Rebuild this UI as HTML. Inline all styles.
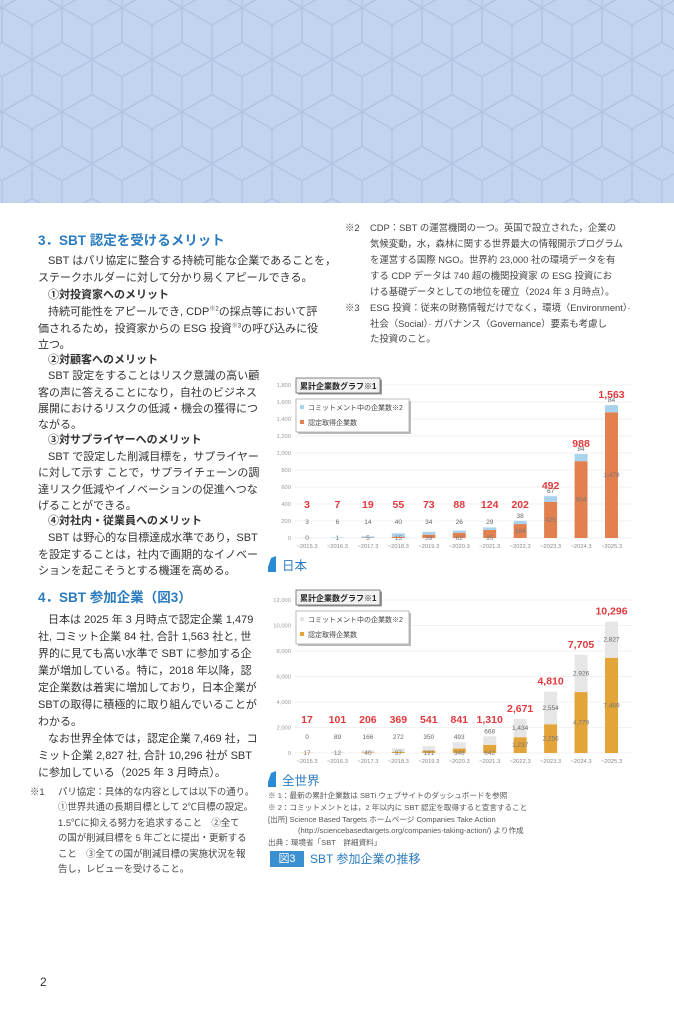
<!DOCTYPE html>
<html><head><meta charset="utf-8">
<style>
body{margin:0;width:674px;height:1024px;position:relative;background:#fff;overflow:hidden;font-family:"Liberation Sans","Noto Sans CJK JP",sans-serif;color:#333}
.l{position:absolute;white-space:nowrap;font-size:11px;line-height:14px}
.b{font-weight:bold}
.h{position:absolute;white-space:nowrap;font-size:13.5px;font-weight:bold;color:#2a7bbf}
.n{position:absolute;white-space:nowrap;font-size:9.4px;line-height:12px;color:#444}
.c{position:absolute;white-space:nowrap;font-size:7.6px;line-height:10px;color:#555}
sup{font-size:6px;line-height:0}
</style></head><body>
<svg id="hdr" style="position:absolute;left:0;top:0" width="674" height="203"></svg>

<div class="h" style="left:38px;top:229px">3．SBT 認定を受けるメリット</div>
<div>
<div class="l" style="left:48px;top:254px">SBT はパリ協定に整合する持続可能な企業であることを，</div>
<div class="l" style="left:38px;top:271px">ステークホルダーに対して分かり易くアピールできる。</div>
<div class="l b" style="left:48px;top:288px">①対投資家へのメリット</div>
<div class="l" style="left:48px;top:305px">持続可能性をアピールでき, CDP<sup>※2</sup>の採点等において評</div>
<div class="l" style="left:38px;top:322px">価されるため，投資家からの ESG 投資<sup>※3</sup>の呼び込みに役</div>
<div class="l" style="left:38px;top:338px">立つ。</div>
<div class="l b" style="left:48px;top:353px">②対顧客へのメリット</div>
<div class="l" style="left:48px;top:369px">SBT 設定をすることはリスク意識の高い顧</div>
<div class="l" style="left:38px;top:386px">客の声に答えることになり，自社のビジネス</div>
<div class="l" style="left:38px;top:402px">展開におけるリスクの低減・機会の獲得につ</div>
<div class="l" style="left:38px;top:418px">ながる。</div>
<div class="l b" style="left:48px;top:433px">③対サプライヤーへのメリット</div>
<div class="l" style="left:48px;top:450px">SBT で設定した削減目標を，サプライヤー</div>
<div class="l" style="left:38px;top:466px">に対して示す ことで，サプライチェーンの調</div>
<div class="l" style="left:38px;top:483px">達リスク低減やイノベーションの促進へつな</div>
<div class="l" style="left:38px;top:499px">げることができる。</div>
<div class="l b" style="left:48px;top:514px">④対社内・従業員へのメリット</div>
<div class="l" style="left:48px;top:531px">SBT は野心的な目標達成水準であり，SBT</div>
<div class="l" style="left:38px;top:548px">を設定することは，社内で画期的なイノベー</div>
<div class="l" style="left:38px;top:564px">ションを起こそうとする機運を高める。</div>
</div>
<div class="h" style="left:38px;top:586px">4．SBT 参加企業（図3）</div>
<div>
<div class="l" style="left:48px;top:613px">日本は 2025 年 3 月時点で認定企業 1,479</div>
<div class="l" style="left:38px;top:630px">社, コミット企業 84 社, 合計 1,563 社と, 世</div>
<div class="l" style="left:38px;top:647px">界的に見ても高い水準で SBT に参加する企</div>
<div class="l" style="left:38px;top:664px">業が増加している。特に，2018 年以降，認</div>
<div class="l" style="left:38px;top:681px">定企業数は着実に増加しており，日本企業が</div>
<div class="l" style="left:38px;top:698px">SBTの取得に積極的に取り組んでいることが</div>
<div class="l" style="left:38px;top:715px">わかる。</div>
<div class="l" style="left:48px;top:732px">なお世界全体では，認定企業 7,469 社，コ</div>
<div class="l" style="left:38px;top:749px">ミット企業 2,827 社, 合計 10,296 社が SBT</div>
<div class="l" style="left:38px;top:766px">に参加している（2025 年 3 月時点）。</div>
</div>
<div>
<div class="n" style="left:30px;top:786px">※1</div>
<div class="n" style="left:58px;top:786px">パリ協定：具体的な内容としては以下の通り。</div>
<div class="n" style="left:58px;top:801px">①世界共通の長期目標として 2℃目標の設定。</div>
<div class="n" style="left:58px;top:817px">1.5℃に抑える努力を追求すること　②全て</div>
<div class="n" style="left:58px;top:832px">の国が削減目標を 5 年ごとに提出・更新する</div>
<div class="n" style="left:58px;top:848px">こと　③全ての国が削減目標の実施状況を報</div>
<div class="n" style="left:58px;top:863px">告し，レビューを受けること。</div>
</div>
<div>
<div class="n" style="left:345px;top:222px">※2</div>
<div class="n" style="left:370px;top:222px">CDP：SBT の運営機関の一つ。英国で設立された，企業の</div>
<div class="n" style="left:370px;top:238px">気候変動，水，森林に関する世界最大の情報開示プログラム</div>
<div class="n" style="left:370px;top:254px">を運営する国際 NGO。世界約 23,000 社の環境データを有</div>
<div class="n" style="left:370px;top:270px">する CDP データは 740 超の機関投資家 の ESG 投資にお</div>
<div class="n" style="left:370px;top:286px">ける基礎データとしての地位を確立（2024 年 3 月時点）。</div>
<div class="n" style="left:345px;top:302px">※3</div>
<div class="n" style="left:370px;top:302px">ESG 投資：従来の財務情報だけでなく，環境（Environment）·</div>
<div class="n" style="left:370px;top:318px">社会（Social）· ガバナンス（Governance）要素も考慮し</div>
<div class="n" style="left:370px;top:333px">た投資のこと。</div>
</div>

<svg id="jp" style="position:absolute;left:265px;top:370px" width="375" height="210"></svg>
<svg id="wd" style="position:absolute;left:265px;top:585px" width="375" height="210"></svg>

<div>
<div class="c" style="left:268px;top:791px">※ 1：最新の累計企業数は SBTi ウェブサイトのダッシュボードを参照</div>
<div class="c" style="left:268px;top:803px">※ 2：コミットメントとは，2 年以内に SBT 認定を取得すると宣言すること</div>
<div class="c" style="left:268px;top:815px">[出所]  Science Based Targets ホームページ Companies Take Action</div>
<div class="c" style="left:298px;top:826px">(http://sciencebasedtargets.org/companies-taking-action/) より作成</div>
<div class="c" style="left:268px;top:838px">出典：環境省「SBT　詳細資料」</div>
</div>
<div style="position:absolute;left:270px;top:851px;height:16px;width:34px;background:#3a8fd0;color:#fff;font-size:11px;line-height:16px;text-align:center">図3</div>
<div style="position:absolute;left:310px;top:851px;font-size:12px;line-height:16px;color:#2a7bbf;white-space:nowrap">SBT 参加企業の推移</div>
<div style="position:absolute;left:40px;top:975px;font-size:12px">2</div>

<script>
const NS='http://www.w3.org/2000/svg';
function mk(p,t,a){const e=document.createElementNS(NS,t);for(const k in a)e.setAttribute(k,a[k]);p.appendChild(e);return e;}
const hdr=document.getElementById('hdr');
mk(hdr,'rect',{x:0,y:0,width:674,height:203,fill:'#c3d4ee'});
const s=34.64;
for(let r=-1;r<6;r++){for(let c=-1;c<13;c++){
 const cx=c*60+(r%2?30:0)+32, cy=r*52+25;
 const pts=[];for(let k=0;k<6;k++){const a=Math.PI/180*(60*k-90);pts.push((cx+s*Math.cos(a)).toFixed(1)+','+(cy+s*Math.sin(a)).toFixed(1));}
 mk(hdr,'polygon',{points:pts.join(' '),fill:'none',stroke:'#b2c5e3','stroke-width':1.5});
 mk(hdr,'path',{d:`M${cx},${cy} L${cx},${cy+s} M${cx},${cy} L${cx-30},${cy-s/2} M${cx},${cy} L${cx+30},${cy-s/2}`,stroke:'#b2c5e3','stroke-width':1.5,fill:'none'});
}}

const categories=['~2015.3','~2016.3','~2017.3','~2018.3','~2019.3','~2020.3','~2021.3','~2022.3','~2023.3','~2024.3','~2025.3'];
const jpCertified=[0,1,5,15,39,62,95,164,425,904,1479];
const jpCommit=[3,6,14,40,34,26,29,38,67,84,84];
const jpTicks=[0,200,400,600,800,1000,1200,1400,1600,1800];
const wdCertified=[17,12,40,97,191,348,642,1237,2256,4779,7469];
const wdCommit=[0,89,166,272,350,493,668,1434,2554,2926,2827];
const wdTicks=[0,2000,4000,6000,8000,10000,12000];

function chart(svg,cert,comm,ticks,max,certColor,commColor,labelName,top0){
 const zeroY=168, topY=15, x0=42, dx=30.45, bw=13;
 const y=v=>zeroY-(v/max)*(zeroY-topY);
 const x=i=>x0+i*dx;
 ticks.forEach(t=>{
  const g=mk(svg,'line',{x1:30,x2:368,y1:y(t),y2:y(t),stroke:'#ececec','stroke-width':0.8});
  
  
  const tl=mk(svg,'text',{x:26,y:y(t)+2,'text-anchor':'end','font-size':5.8,fill:'#999'});
  tl.textContent=t.toLocaleString('en-US');
  
  
 });
 categories.forEach((c,i)=>{
  const cx=x(i), tot=cert[i]+comm[i];
  const b1=mk(svg,'rect',{x:cx-bw/2,y:y(cert[i]),width:bw,height:zeroY-y(cert[i]),fill:certColor});
  
  
  const b2=mk(svg,'rect',{x:cx-bw/2,y:y(tot),width:bw,height:y(cert[i])-y(tot),fill:commColor});
  
  
  const seg=y(cert[i])-y(tot);
  let cy=(y(cert[i])+y(tot))/2+2;
  if(seg<12) cy=Math.min(y(tot)-3,zeroY-14);
  const l2=mk(svg,'text',{x:cx,y:cy,'text-anchor':'middle','font-size':6.5,fill:'#666'});
  l2.textContent=comm[i].toLocaleString('en-US');
  
  
  let ly=(y(cert[i])+zeroY)/2+2; if(ly>zeroY+2) ly=zeroY+2;
  if(zeroY-y(cert[i])<10) ly=zeroY+2;
  const l1=mk(svg,'text',{x:cx,y:ly,'text-anchor':'middle','font-size':6.5,fill:'#777'});
  l1.textContent=cert[i].toLocaleString('en-US');
  
  
  const lt=mk(svg,'text',{x:cx,y:Math.min(y(tot)-7,zeroY-30),'text-anchor':'middle','font-size':10.5,'font-weight':'bold',fill:'#e03a3e'});
  lt.textContent=tot.toLocaleString('en-US');
  
  
  const xl=mk(svg,'text',{x:cx,y:zeroY+10,'text-anchor':'middle','font-size':5.8,fill:'#888'});
  xl.textContent=c;
  
  
 });
 mk(svg,'rect',{x:33,y:top0+1.5,width:84,height:15,fill:'#999'});
 const tb=mk(svg,'rect',{x:31,y:top0,width:84,height:15,fill:'#f2f2f2',stroke:'#666','stroke-width':0.8});
 
 
 const tt=mk(svg,'text',{x:35,y:top0+11,'font-size':8,'font-weight':'bold',fill:'#222'});
 tt.textContent='累計企業数グラフ※1';
 
 
 mk(svg,'rect',{x:33,y:top0+23,width:113,height:33,fill:'#bbb'});
 const lg=mk(svg,'rect',{x:31,y:top0+21,width:113,height:33,fill:'#fff',stroke:'#aaa','stroke-width':0.8});
 
 
 mk(svg,'rect',{x:35,y:top0+27,width:4,height:4,fill:commColor});
 const e1=mk(svg,'text',{x:43,y:top0+32,'font-size':7,fill:'#444'});
 e1.textContent='コミットメント中の企業数※2';
 
 
 mk(svg,'rect',{x:35,y:top0+42,width:4,height:4,fill:certColor});
 const e2=mk(svg,'text',{x:43,y:top0+47,'font-size':7,fill:'#444'});
 e2.textContent='認定取得企業数';
 
 
 mk(svg,'path',{d:'M3,197 L6,188 L11,186 L11,202 L3,202 Z',fill:'#2a8ad4'});
 const rl=mk(svg,'text',{x:17,y:200,'font-size':12.5,fill:'#2a7bbf'});
 rl.textContent=labelName;
 
 
}
chart(document.getElementById('jp'),jpCertified,jpCommit,jpTicks,1800,'#e2804f','#a9d3ec','日本',8);
chart(document.getElementById('wd'),wdCertified,wdCommit,wdTicks,12000,'#e3a43a','#e6e6e6','全世界',5);
</script>
</body></html>
